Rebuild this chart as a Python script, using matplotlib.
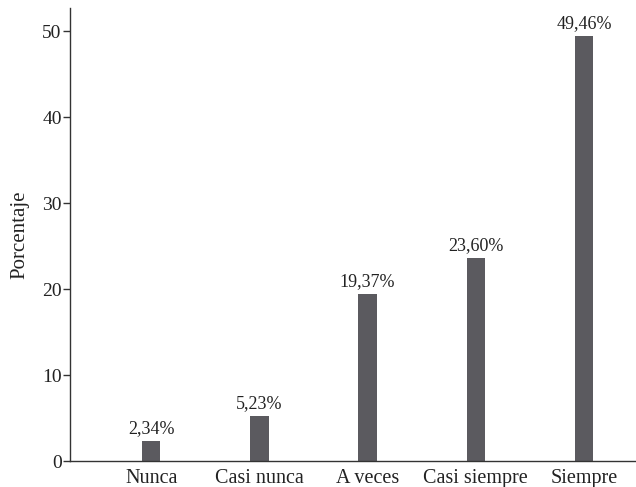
import matplotlib
matplotlib.use("Agg")
import matplotlib.pyplot as plt

categories = ["Nunca", "Casi nunca", "A veces", "Casi siempre", "Siempre"]
values = [2.34, 5.23, 19.37, 23.60, 49.46]
labels = ["2,34%", "5,23%", "19,37%", "23,60%", "49,46%"]
yticks = [0, 10, 20, 30, 40, 50]

plt.rcParams['font.family'] = ['Liberation Serif', 'DejaVu Serif']

fig = plt.figure(figsize=(6.36, 4.87), dpi=100)
ax = fig.add_axes([70/636, 1 - 461/487, 1 - 70/636, (461 - 8)/487])

x = list(range(len(categories)))
ax.bar(x, values, width=0.17, color="#5b5a5f")
for xi, v, lab in zip(x, values, labels):
    ax.annotate(lab, (xi, v), xytext=(0, 3), textcoords="offset points",
                ha="center", va="bottom", fontsize=13, color="#222222")

ax.set_xlim(-0.75, 4.48)
ax.set_ylim(0, 52.7)
ax.set_xticks(x)
ax.set_xticklabels(categories, fontsize=14.5, color="#222222")
ax.set_yticks(yticks)
ax.set_yticklabels([str(t) for t in yticks], fontsize=14, color="#222222")
ax.set_ylabel("Porcentaje", fontsize=15, color="#222222", labelpad=9)

ax.tick_params(axis='x', length=0, pad=6)
ax.tick_params(axis='y', length=5, width=1, color="#333333", pad=1)
for s in ["top", "right"]:
    ax.spines[s].set_visible(False)
for s in ["left", "bottom"]:
    ax.spines[s].set_color("#333333")
    ax.spines[s].set_linewidth(1)

fig.savefig("out.png", dpi=100)
